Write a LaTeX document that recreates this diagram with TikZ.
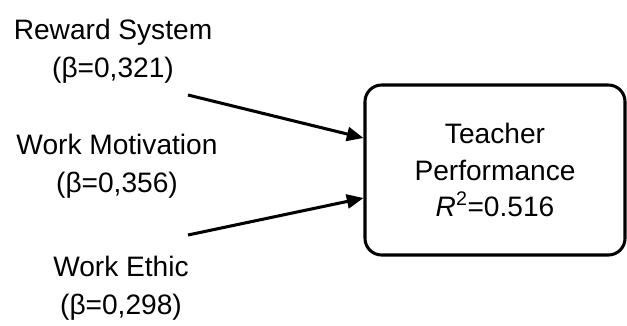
\documentclass[tikz,border=0pt]{standalone}
\usepackage{fontspec}
\setmainfont{Liberation Sans}
\usepackage{tikz}
\usetikzlibrary{positioning,arrows.meta}

\tikzset{
    predictor/.style={align=center,font=\fontsize{24}{32}\selectfont,inner sep=0pt},
    result/.style={draw,line width=2.6pt,rounded corners=0.5cm,align=center,
        minimum width=7.8cm,minimum height=5.1cm,font=\fontsize{24}{31}\selectfont},
    effect/.style={line width=2.6pt,-{Triangle[length=0.5cm,width=0.42cm]}}
}

\begin{document}
\begin{tikzpicture}[x=0.03cm,y=-0.03cm]
    \useasboundingbox (0,0) rectangle (627,325);
    \node [predictor] (R) at (113,51) {Reward System\\(β=0,321)};
    \node [predictor] (M) at (117,166) {Work Motivation\\(β=0,356)};
    \node [predictor] (E) at (121,288) {Work Ethic\\(β=0,298)};
    \node [result] (P) at (495,170) {Teacher\\Performance\\\textit{R}\textsuperscript{2}=0.516};
    \coordinate (Rs) at (188,95);
    \coordinate (Es) at (188,235);
    \draw[effect] (Rs) -- ([yshift=0.96cm]P.west);
    \draw[effect] (Es) -- ([yshift=-0.84cm]P.west);
\end{tikzpicture}
\end{document}
